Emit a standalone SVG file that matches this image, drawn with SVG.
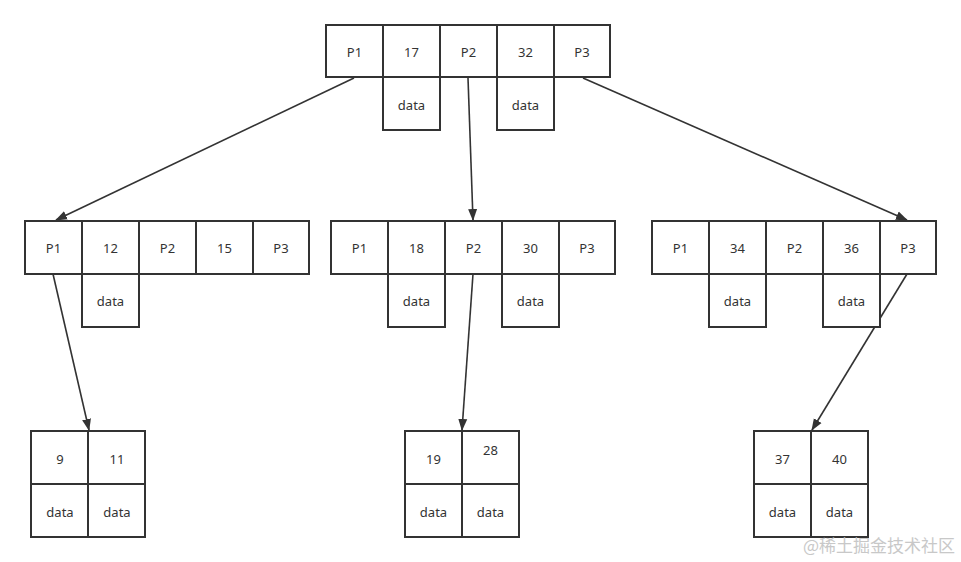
<svg xmlns="http://www.w3.org/2000/svg" width="961" height="562" viewBox="0 0 961 562">
<style>
.c{fill:#fff;stroke:#333;stroke-width:2}
.t{font-family:"Noto Sans","Liberation Sans",sans-serif;font-size:13px;fill:#333;text-anchor:middle;dominant-baseline:central}
.e{stroke:#333;stroke-width:1.6;fill:none;marker-end:url(#ah)}
.w{font-family:"Noto Sans CJK SC","Noto Sans",sans-serif;font-size:17px;fill:#c8c8c8;text-anchor:end}
</style>
<defs>
<marker id="ah" markerWidth="12" markerHeight="10" refX="11" refY="5" orient="auto" markerUnits="userSpaceOnUse">
<path d="M0,0.5 L12,5 L0,9.5 Z" fill="#333"/>
</marker>
</defs>
<rect width="961" height="562" fill="#fff"/>
<g id="edges">
<line class="e" x1="354" y1="78" x2="56" y2="220"/>
<line class="e" x1="468" y1="78" x2="473" y2="220"/>
<line class="e" x1="583" y1="78" x2="907" y2="220"/>
<line class="e" x1="53" y1="274" x2="89" y2="430"/>
<line class="e" x1="473" y1="274" x2="462" y2="430"/>
<line class="e" x1="907" y1="274" x2="812" y2="430"/>
</g>
<g id="root">
<rect class="c" x="326" y="25" width="57" height="52"/>
<rect class="c" x="383" y="25" width="57" height="52"/>
<rect class="c" x="440" y="25" width="57" height="52"/>
<rect class="c" x="497" y="25" width="57" height="52"/>
<rect class="c" x="554" y="25" width="56" height="52"/>
<rect class="c" x="383" y="77" width="57" height="53"/>
<rect class="c" x="497" y="77" width="57" height="53"/>
<text class="t" x="354.5" y="52">P1</text>
<text class="t" x="411.5" y="52">17</text>
<text class="t" x="468.5" y="52">P2</text>
<text class="t" x="525.5" y="52">32</text>
<text class="t" x="582" y="52">P3</text>
<text class="t" x="411.5" y="105">data</text>
<text class="t" x="525.5" y="105">data</text>
</g>
<g id="midLeft">
<rect class="c" x="25" y="221" width="57" height="53"/>
<rect class="c" x="82" y="221" width="57" height="53"/>
<rect class="c" x="139" y="221" width="57" height="53"/>
<rect class="c" x="196" y="221" width="57" height="53"/>
<rect class="c" x="253" y="221" width="56" height="53"/>
<rect class="c" x="82" y="274" width="57" height="53"/>
<text class="t" x="53.5" y="248">P1</text>
<text class="t" x="110.5" y="248">12</text>
<text class="t" x="167.5" y="248">P2</text>
<text class="t" x="224.5" y="248">15</text>
<text class="t" x="281" y="248">P3</text>
<text class="t" x="110.5" y="301">data</text>
</g>
<g id="midCenter">
<rect class="c" x="331" y="221" width="57" height="53"/>
<rect class="c" x="388" y="221" width="57" height="53"/>
<rect class="c" x="445" y="221" width="57" height="53"/>
<rect class="c" x="502" y="221" width="57" height="53"/>
<rect class="c" x="559" y="221" width="56" height="53"/>
<rect class="c" x="388" y="274" width="57" height="53"/>
<rect class="c" x="502" y="274" width="57" height="53"/>
<text class="t" x="359.5" y="248">P1</text>
<text class="t" x="416.5" y="248">18</text>
<text class="t" x="473.5" y="248">P2</text>
<text class="t" x="530.5" y="248">30</text>
<text class="t" x="587" y="248">P3</text>
<text class="t" x="416.5" y="301">data</text>
<text class="t" x="530.5" y="301">data</text>
</g>
<g id="midRight">
<rect class="c" x="652" y="221" width="57" height="53"/>
<rect class="c" x="709" y="221" width="57" height="53"/>
<rect class="c" x="766" y="221" width="57" height="53"/>
<rect class="c" x="823" y="221" width="57" height="53"/>
<rect class="c" x="880" y="221" width="56" height="53"/>
<rect class="c" x="709" y="274" width="57" height="53"/>
<rect class="c" x="823" y="274" width="57" height="53"/>
<text class="t" x="680.5" y="248">P1</text>
<text class="t" x="737.5" y="248">34</text>
<text class="t" x="794.5" y="248">P2</text>
<text class="t" x="851.5" y="248">36</text>
<text class="t" x="908" y="248">P3</text>
<text class="t" x="737.5" y="301">data</text>
<text class="t" x="851.5" y="301">data</text>
</g>
<g id="leafLeft">
<rect class="c" x="31" y="431" width="57" height="53"/>
<rect class="c" x="88" y="431" width="57" height="53"/>
<rect class="c" x="31" y="484" width="57" height="53"/>
<rect class="c" x="88" y="484" width="57" height="53"/>
<text class="t" x="60" y="459">9</text>
<text class="t" x="117" y="459">11</text>
<text class="t" x="60" y="512">data</text>
<text class="t" x="117" y="512">data</text>
</g>
<g id="leafCenter">
<rect class="c" x="405" y="431" width="57" height="53"/>
<rect class="c" x="462" y="431" width="57" height="53"/>
<rect class="c" x="405" y="484" width="57" height="53"/>
<rect class="c" x="462" y="484" width="57" height="53"/>
<text class="t" x="433.5" y="459">19</text>
<text class="t" x="490.5" y="450">28</text>
<text class="t" x="433.5" y="512">data</text>
<text class="t" x="490.5" y="512">data</text>
</g>
<g id="leafRight">
<rect class="c" x="754" y="431" width="57" height="53"/>
<rect class="c" x="811" y="431" width="57" height="53"/>
<rect class="c" x="754" y="484" width="57" height="53"/>
<rect class="c" x="811" y="484" width="57" height="53"/>
<text class="t" x="782.5" y="459">37</text>
<text class="t" x="839.5" y="459">40</text>
<text class="t" x="782.5" y="512">data</text>
<text class="t" x="839.5" y="512">data</text>
</g>
<text class="w" x="955" y="552">@稀土掘金技术社区</text>
</svg>
